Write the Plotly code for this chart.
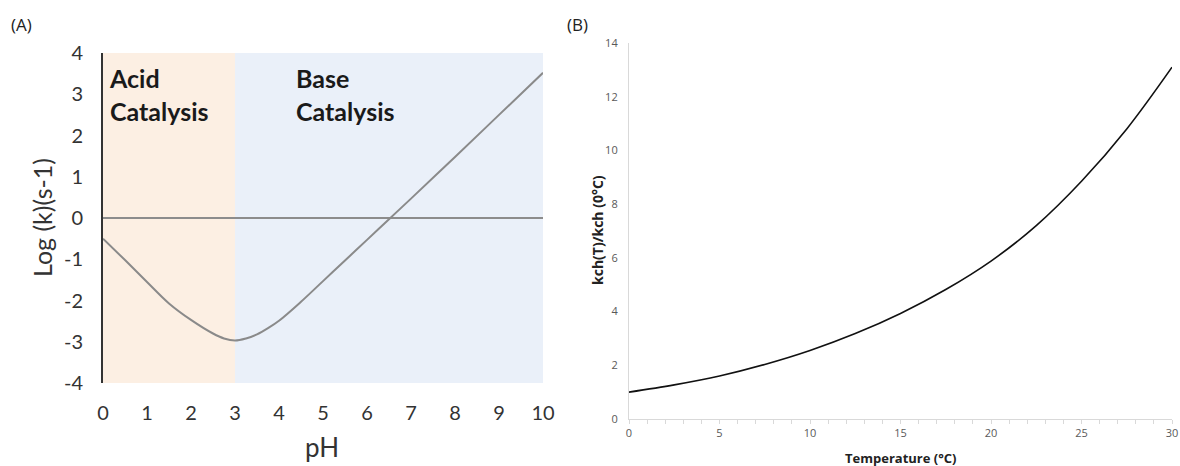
import plotly.graph_objects as go

# ---------------- data ----------------
ph = [0, 0.5, 1, 1.5, 2, 2.5, 2.75, 3, 3.25, 3.5, 3.75, 4, 4.5, 5, 5.5, 6, 6.5, 7, 8, 9, 10]
log_k = [-0.5, -1.02, -1.55, -2.07, -2.47, -2.8, -2.92, -2.97, -2.92, -2.82, -2.67, -2.49, -2.03,
         -1.53, -1.03, -0.53, -0.03, 0.47, 1.48, 2.5, 3.52]

temp_c = [0, 2.5, 5, 7.5, 10, 12.5, 15, 17.5, 20, 22.5, 25, 27.5, 30]
kch_ratio = [1.0, 1.27, 1.6, 2.03, 2.55, 3.18, 3.93, 4.82, 5.88, 7.2, 8.85, 10.8, 13.1]

regions = ["Acid<br>Catalysis", "Base<br>Catalysis"]
region_bounds = [(0, 3), (3, 10)]
region_colors = ["#fcefe3", "#eaf0f9"]
label_x = [0.08, 4.34]

a_xticks = list(range(0, 11))
a_yticks = list(range(-4, 5))
a_ytext = [str(v) for v in a_yticks]
b_xticks = [0, 5, 10, 15, 20, 25, 30]
b_yticks = [0, 2, 4, 6, 8, 10, 12, 14]

W, H = 1180, 466
def px(x):
    return x / W
def py(y):
    return 1 - y / H

FA = "Lato, 'Open Sans', sans-serif"
FB = "'Open Sans', Lato, sans-serif"

fig = go.Figure()

fig.add_trace(go.Scatter(x=ph, y=log_k, mode="lines",
                         line=dict(color="#8a8a8a", width=2, shape="spline", smoothing=1.0),
                         xaxis="x", yaxis="y", showlegend=False, hoverinfo="skip"))
fig.add_trace(go.Scatter(x=temp_c, y=kch_ratio, mode="lines",
                         line=dict(color="#111111", width=1.6, shape="spline", smoothing=1.0),
                         xaxis="x2", yaxis="y2", showlegend=False, hoverinfo="skip"))

shapes = []
for (x0, x1), c in zip(region_bounds, region_colors):
    shapes.append(dict(type="rect", xref="x", yref="y", x0=x0, x1=x1, y0=-4, y1=4,
                       fillcolor=c, line=dict(width=0), layer="below"))

annotations = []
for txt, lx in zip(regions, label_x):
    annotations.append(dict(text="<b>" + txt + "</b>", x=lx, y=3.0, xref="x", yref="y",
                            xanchor="left", yanchor="middle", align="left", showarrow=False,
                            font=dict(family=FA, size=25, color="#1a1a1a")))

annotations += [
    dict(text="(A)", x=px(21), y=py(25), xref="paper", yref="paper", showarrow=False,
         xanchor="center", yanchor="middle", font=dict(family=FB, size=17, color="#222")),
    dict(text="(B)", x=px(577), y=py(25), xref="paper", yref="paper", showarrow=False,
         xanchor="center", yanchor="middle", font=dict(family=FB, size=17, color="#222")),
    dict(text="pH", x=px(322), y=py(447), xref="paper", yref="paper", showarrow=False,
         xanchor="center", yanchor="middle", font=dict(family=FA, size=26, color="#333")),
    dict(text="Log (k)(s-1)", x=px(42), y=py(218), xref="paper", yref="paper", showarrow=False,
         textangle=-90, xanchor="center", yanchor="middle", font=dict(family=FA, size=25, color="#333")),
    dict(text="<b>Temperature (°C)</b>", x=px(900), y=py(458), xref="paper", yref="paper", showarrow=False,
         xanchor="center", yanchor="middle", font=dict(family=FB, size=13, color="#222")),
    dict(text="<b>kch(T)/kch (0°C)</b>", x=px(597), y=py(230), xref="paper", yref="paper", showarrow=False,
         textangle=-90, xanchor="center", yanchor="middle", font=dict(family=FB, size=14, color="#222")),
]

fig.update_layout(
    width=W, height=H, margin=dict(l=0, r=0, t=0, b=0, autoexpand=False),
    paper_bgcolor="white", plot_bgcolor="rgba(0,0,0,0)",
    shapes=shapes, annotations=annotations,
    xaxis=dict(domain=[px(103), px(543)], range=[0, 10], tickvals=a_xticks, showgrid=False, zeroline=False,
               showline=False, ticks="outside", ticklen=12, tickcolor="rgba(0,0,0,0)", automargin=False,
               tickfont=dict(family=FA, size=20, color="#333"), anchor="y", fixedrange=True),
    yaxis=dict(domain=[py(383), py(53)], range=[-4, 4], tickvals=a_yticks, ticktext=a_ytext, showgrid=False,
               zeroline=True, zerolinecolor="#8c8c8c", zerolinewidth=1.5,
               showline=True, linecolor="#333333", linewidth=2, automargin=False,
               ticks="outside", ticklen=14, tickcolor="rgba(0,0,0,0)",
               tickfont=dict(family=FA, size=20, color="#333"), anchor="x", fixedrange=True),
    xaxis2=dict(domain=[px(629), px(1172)], range=[0, 30], tickvals=b_xticks, showgrid=False, zeroline=False,
                showline=True, linecolor="#d9d9d9", linewidth=1.2, automargin=False,
                ticks="outside", ticklen=4, tickcolor="#d9d9d9",
                minor=dict(dtick=1, ticks="outside", ticklen=4, tickcolor="#d9d9d9"),
                tickfont=dict(family=FB, size=11, color="#595959"), anchor="y2", fixedrange=True),
    yaxis2=dict(domain=[py(419), py(43)], range=[0, 14], tickvals=b_yticks, showgrid=False, zeroline=False,
                showline=True, linecolor="#d9d9d9", linewidth=1.2, automargin=False,
                ticks="outside", ticklen=8, tickcolor="rgba(0,0,0,0)",
                tickfont=dict(family=FB, size=11, color="#595959"), anchor="x2", fixedrange=True),
)

fig.write_html("out.html")
